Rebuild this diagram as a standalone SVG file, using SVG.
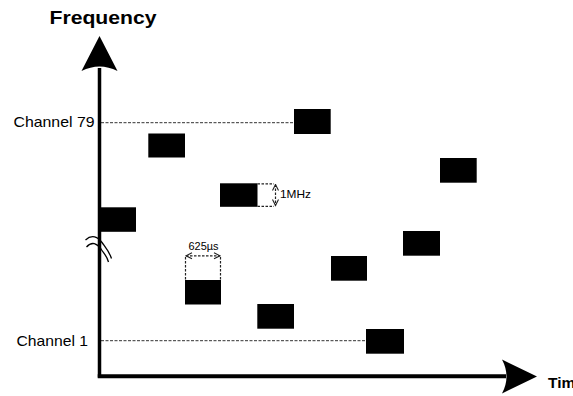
<svg xmlns="http://www.w3.org/2000/svg" width="573" height="396" viewBox="0 0 573 396">
<style>
text{font-family:"Liberation Sans",Arial,sans-serif;fill:#000}
.blk{fill:#000}
.axis{stroke:#000;fill:none}
.dash{stroke:#333;stroke-width:1;stroke-dasharray:3 1.5;fill:none}
.ann{stroke:#222;stroke-width:1.2;stroke-dasharray:2.5 1.5;fill:none}
.brk{stroke:#000;stroke-width:1.3;fill:none}
</style>
<defs>
<marker id="chev" viewBox="0 0 8 8" refX="7" refY="4" markerWidth="8" markerHeight="8" markerUnits="userSpaceOnUse" orient="auto-start-reverse">
<path d="M1,1 L7,4 L1,7" fill="none" stroke="#222" stroke-width="1.1"/>
</marker>
</defs>
<rect width="573" height="396" fill="#fff"/>
<g id="connectors">
<line class="dash" x1="101" y1="122.7" x2="294" y2="122.7"/>
<line class="dash" x1="101" y1="340.7" x2="366" y2="340.7"/>
</g>
<g id="axes">
<line class="axis" x1="99.5" y1="68" x2="99.5" y2="377.5" stroke-width="3.5"/>
<line class="axis" x1="97.75" y1="376.2" x2="506" y2="376.2" stroke-width="4"/>
<path d="M99.5,36 L117.5,71 Q99.5,62 81.5,71 Z" fill="#000"/>
<path d="M537,376.5 L502,359.5 Q511,376.5 502,393.5 Z" fill="#000"/>
<path class="brk" d="M85.5,240 C92,234 98,237 102,242.5 C106,248 109,251 111.5,258.5"/>
<path class="brk" d="M86.5,247 C92,241 97,243.5 101,249 C104,253.5 107,256 108.5,262"/>
</g>
<g id="labels">
<text x="49.5" y="23.5" font-size="18" font-weight="bold" textLength="107" lengthAdjust="spacingAndGlyphs">Frequency</text>
<text x="13.5" y="127" font-size="15" textLength="81" lengthAdjust="spacingAndGlyphs">Channel 79</text>
<text x="16.5" y="345.5" font-size="15" textLength="71.5" lengthAdjust="spacingAndGlyphs">Channel 1</text>
<text x="548" y="387.5" font-size="15.5" font-weight="bold">Time</text>
</g>
<g id="hop1"><rect class="blk" x="100" y="207.3" width="36" height="24.5"/></g>
<g id="hop2"><rect class="blk" x="148.3" y="133.5" width="36.7" height="24"/></g>
<g id="hop3"><rect class="blk" x="220" y="183.3" width="37.5" height="23.5"/></g>
<g id="hop4"><rect class="blk" x="294" y="109" width="36.7" height="25"/></g>
<g id="hop5"><rect class="blk" x="185" y="280" width="36" height="24.5"/></g>
<g id="hop6"><rect class="blk" x="257.3" y="304" width="36.7" height="24.7"/></g>
<g id="hop7"><rect class="blk" x="331" y="256" width="36" height="24.7"/></g>
<g id="hop8"><rect class="blk" x="403" y="231" width="37" height="24.7"/></g>
<g id="hop9"><rect class="blk" x="440" y="158" width="36.7" height="24.7"/></g>
<g id="hop10"><rect class="blk" x="366" y="329" width="38" height="24.7"/></g>
<g id="ann-1MHz">
<line class="ann" x1="257.5" y1="183.8" x2="274" y2="183.8"/>
<line class="ann" x1="257.5" y1="206.3" x2="274" y2="206.3"/>
<line class="ann" x1="275.5" y1="184.5" x2="275.5" y2="205.5" marker-start="url(#chev)" marker-end="url(#chev)"/>
<text x="280" y="197.5" font-size="10.5" textLength="31" lengthAdjust="spacingAndGlyphs">1MHz</text>
</g>
<g id="ann-625us">
<line class="ann" x1="185.5" y1="257" x2="185.5" y2="280"/>
<line class="ann" x1="220.5" y1="257" x2="220.5" y2="280"/>
<line class="ann" x1="186" y1="255.8" x2="220" y2="255.8" marker-start="url(#chev)" marker-end="url(#chev)"/>
<text x="188.5" y="249.5" font-size="10.5" textLength="30" lengthAdjust="spacingAndGlyphs">625µs</text>
</g>
</svg>
